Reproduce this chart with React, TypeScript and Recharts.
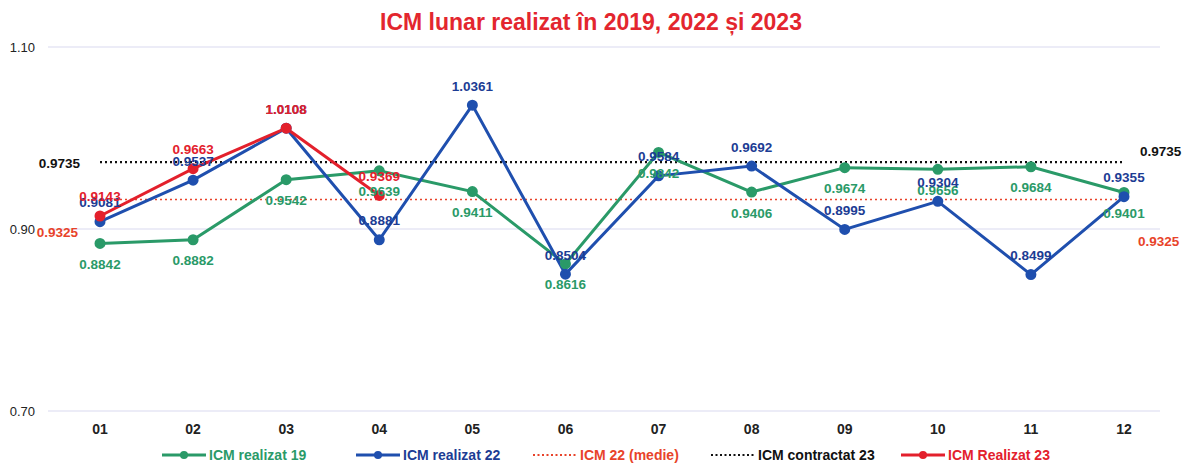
import React from 'react';
import { LineChart, Line, XAxis, YAxis, CartesianGrid, Legend } from 'recharts';

const months = ['01', '02', '03', '04', '05', '06', '07', '08', '09', '10', '11', '12'];
const icm19 = [0.8842, 0.8882, 0.9542, 0.9639, 0.9411, 0.8616, 0.9842, 0.9406, 0.9674, 0.9656, 0.9684, 0.9401];
const icm22 = [0.9081, 0.9537, 1.0108, 0.8881, 1.0361, 0.8504, 0.9584, 0.9692, 0.8995, 0.9304, 0.8499, 0.9355];
const icm23 = [0.9143, 0.9663, 1.0108, 0.9369];
const icm22Avg = 0.9325;
const icmContract23 = 0.9735;
const yTicks = [0.7, 0.9, 1.1];

const GREEN = '#2a9a68';
const BLUE = '#1f4fae';
const BLUE_TXT = '#1c3c94';
const RED = '#e3202c';
const AVG_RED = '#e8432a';
const BLACK = '#111111';
const FONT = 'Liberation Sans, Arial, sans-serif';

const data = months.map((m, i) => ({
  month: m,
  r19: icm19[i],
  r22: icm22[i],
  r23: i < icm23.length ? icm23[i] : null,
  avg: icm22Avg,
  contract: icmContract23,
}));

const fmt = (v: number) => v.toFixed(4);

const mkLabel = (color: string, dy: number) => (p: any) => {
  if (p.value == null) return null;
  return (
    <text x={p.x} y={p.y + dy} fill={color} fontSize={13.5} fontWeight={700} textAnchor="middle" dominantBaseline="central" fontFamily={FONT}>
      {fmt(p.value)}
    </text>
  );
};

const mkEndLabel = (color: string, left: { dx: number; dy: number }, right: { dx: number; dy: number }) => (p: any) => {
  if (p.index === 0) {
    return (
      <text x={p.x + left.dx} y={p.y + left.dy} fill={color} fontSize={13.5} fontWeight={700} textAnchor="end" dominantBaseline="central" fontFamily={FONT}>
        {fmt(p.value)}
      </text>
    );
  }
  if (p.index === months.length - 1) {
    return (
      <text x={p.x + right.dx} y={p.y + right.dy} fill={color} fontSize={13.5} fontWeight={700} textAnchor="start" dominantBaseline="central" fontFamily={FONT}>
        {fmt(p.value)}
      </text>
    );
  }
  return null;
};

const legendItems = [
  { label: 'ICM realizat 19', color: GREEN, text: GREEN, dot: true, dash: false, left: 162 },
  { label: 'ICM realizat 22', color: BLUE, text: BLUE_TXT, dot: true, dash: false, left: 356 },
  { label: 'ICM 22 (medie)', color: AVG_RED, text: AVG_RED, dot: false, dash: true, left: 533 },
  { label: 'ICM contractat 23', color: BLACK, text: BLACK, dot: false, dash: true, left: 711 },
  { label: 'ICM Realizat 23', color: RED, text: RED, dot: true, dash: false, left: 901 },
];

const renderLegend = () => (
  <div style={{ position: 'relative', width: 1182, height: 20, fontFamily: FONT, fontSize: 14, fontWeight: 700 }}>
    {legendItems.map((it) => (
      <div key={it.label} style={{ position: 'absolute', left: it.left, top: 0, height: 20, display: 'flex', alignItems: 'center', gap: 3, whiteSpace: 'nowrap' }}>
        <svg width={44} height={12}>
          <line x1={0} y1={6} x2={44} y2={6} stroke={it.color} strokeWidth={it.dash ? 1.8 : 3} strokeDasharray={it.dash ? '2 2.5' : undefined} />
          {it.dot && <circle cx={22} cy={6} r={4} fill={it.color} />}
        </svg>
        <span style={{ color: it.text }}>{it.label}</span>
      </div>
    ))}
  </div>
);

export default function App() {
  return (
    <div style={{ position: 'absolute', left: 0, top: 0, width: 1182, height: 465, background: '#fff' }}>
      <div style={{ position: 'absolute', left: 0, top: 8, width: 1182, textAlign: 'center', color: '#e3262e', fontFamily: FONT, fontWeight: 700, fontSize: 23, lineHeight: '28px', zIndex: 2 }}>
        ICM lunar realizat în 2019, 2022 și 2023
      </div>
      <LineChart width={1182} height={465} data={data} margin={{ top: 47, right: 22, bottom: 0, left: 0 }}>
        <CartesianGrid horizontal vertical={false} stroke="#d9d9ef" />
        <XAxis dataKey="month" padding={{ left: 52, right: 36 }} tickLine={false} axisLine={false} height={34} tickSize={0} tickMargin={13}
          tick={{ fill: '#222', fontSize: 14, fontWeight: 700, fontFamily: FONT }} />
        <YAxis domain={[0.7, 1.1]} ticks={yTicks} width={48} tickLine={false} axisLine={false} tickSize={0} tickMargin={13}
          tickFormatter={(v: number) => v.toFixed(2)}
          tick={{ fill: '#222', fontSize: 13, fontFamily: FONT }} />
        <Legend verticalAlign="bottom" content={renderLegend} wrapperStyle={{ left: 0, width: 1182 }} />
        <Line dataKey="avg" stroke={AVG_RED} strokeWidth={1.6} strokeDasharray="2 3" dot={false} isAnimationActive={false}
          label={mkEndLabel(AVG_RED, { dx: -22, dy: 33 }, { dx: 14, dy: 42 })} />
        <Line dataKey="contract" stroke={BLACK} strokeWidth={2.4} strokeDasharray="2 3" dot={false} isAnimationActive={false}
          label={mkEndLabel(BLACK, { dx: -20, dy: 1 }, { dx: 16, dy: -11 })} />
        <Line dataKey="r19" stroke={GREEN} strokeWidth={3} dot={{ r: 4, fill: GREEN, stroke: GREEN }} isAnimationActive={false}
          label={mkLabel(GREEN, 21)} />
        <Line dataKey="r22" stroke={BLUE} strokeWidth={3} dot={{ r: 4, fill: BLUE, stroke: BLUE }} isAnimationActive={false}
          label={mkLabel(BLUE_TXT, -19)} />
        <Line dataKey="r23" stroke={RED} strokeWidth={3} dot={{ r: 4, fill: RED, stroke: RED }} isAnimationActive={false}
          label={mkLabel(RED, -19)} connectNulls={false} />
      </LineChart>
    </div>
  );
}
